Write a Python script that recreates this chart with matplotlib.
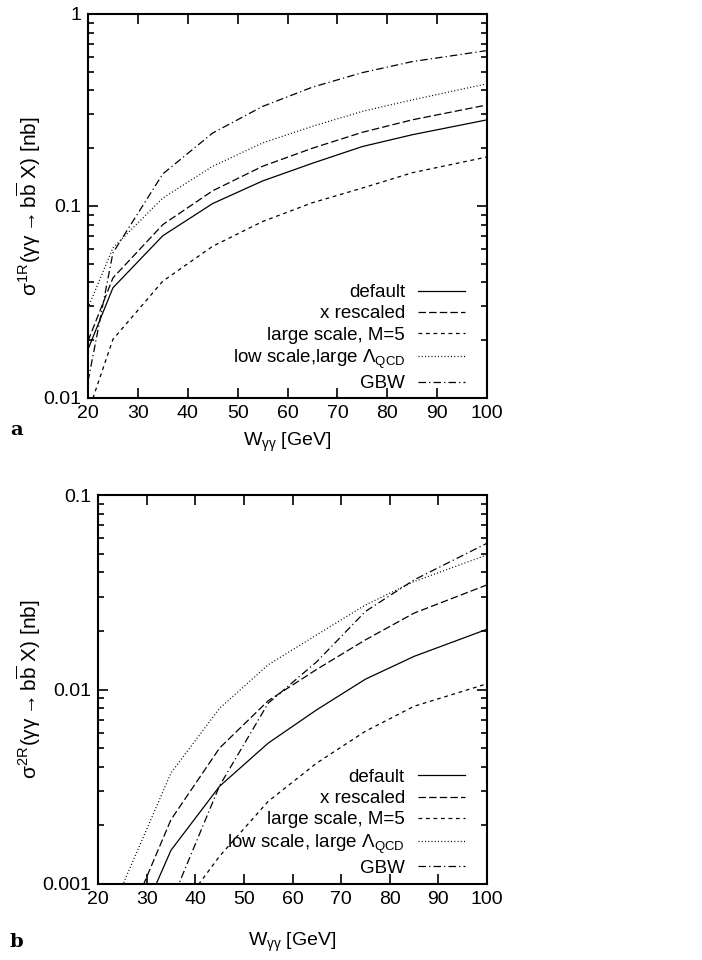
import matplotlib
matplotlib.use("Agg")
import matplotlib.pyplot as plt
from matplotlib.ticker import FixedLocator, FuncFormatter, LogLocator, NullFormatter

plt.rcParams['font.family'] = ['Liberation Sans', 'DejaVu Sans']
plt.rcParams['mathtext.fontset'] = 'custom'
plt.rcParams['mathtext.rm'] = 'Liberation Sans'
plt.rcParams['mathtext.it'] = 'Liberation Sans'
plt.rcParams['mathtext.bf'] = 'Liberation Sans:bold'

# panel a: sigma^1R
w_a = [20, 25, 35, 45, 55, 65, 75, 85, 100]
default_a = [0.0179, 0.0375, 0.070, 0.103, 0.135, 0.167, 0.204, 0.235, 0.281]
xresc_a = [0.0198, 0.0422, 0.080, 0.120, 0.161, 0.200, 0.242, 0.281, 0.336]
large_a = [0.0084, 0.0202, 0.0406, 0.0617, 0.083, 0.104, 0.124, 0.149, 0.180]
low_a = [0.0295, 0.0605, 0.110, 0.161, 0.213, 0.260, 0.311, 0.357, 0.433]
gbw_a = [0.0122, 0.057, 0.147, 0.240, 0.330, 0.416, 0.495, 0.565, 0.645]

# panel b: sigma^2R
w_b = [25, 35, 45, 55, 65, 75, 85, 100]
default_b = [0.0004, 0.00149, 0.00318, 0.0053, 0.00787, 0.0113, 0.0148, 0.0204]
xresc_b = [0.00055, 0.00214, 0.0050, 0.00875, 0.0127, 0.0180, 0.0247, 0.0345]
large_b = [0.0002, 0.00064, 0.00139, 0.00266, 0.00419, 0.0061, 0.0082, 0.0107]
low_b = [0.00098, 0.00372, 0.0080, 0.0134, 0.0191, 0.0272, 0.0359, 0.0492]
gbw_b = [0.0002, 0.0008, 0.0032, 0.0085, 0.0139, 0.0252, 0.0366, 0.0565]

labels_a = ['default', 'x rescaled', 'large scale, M=5',
            r'low scale,large $\Lambda_{QCD}$', 'GBW']
labels_b = ['default', 'x rescaled', 'large scale, M=5',
            r'low scale, large $\Lambda_{QCD}$', 'GBW']
styles = ['-', (0, (6, 2.5)), (0, (3, 3)), (0, (0.8, 1.8)), (0, (6, 2.5, 1, 2.5))]

FS = 14
LFS = 13.5
fig = plt.figure(figsize=(7.02, 9.6), dpi=100)
W, H = 702, 960


def box(l, t, r, b):
    return [l / W, 1 - b / H, (r - l) / W, (b - t) / H]


def setup(ax, ylo, yhi, ylabel, ylab_x, xlab_y):
    ax.set_yscale('log')
    ax.set_xlim(20, 100)
    ax.set_ylim(ylo, yhi)
    ax.xaxis.set_major_locator(FixedLocator(range(20, 101, 10)))
    ax.yaxis.set_major_locator(LogLocator(base=10))
    ax.yaxis.set_minor_locator(LogLocator(base=10, subs=range(2, 10)))
    ax.yaxis.set_major_formatter(FuncFormatter(lambda v, p: '%g' % v))
    ax.yaxis.set_minor_formatter(NullFormatter())
    ax.tick_params(which='both', direction='in', top=True, right=True, labelsize=FS, width=1.2)
    ax.tick_params(which='major', length=7, pad=5)
    ax.tick_params(which='minor', length=4)
    for s in ax.spines.values():
        s.set_linewidth(1.5)
    ax.set_xlabel(r'$W_{\gamma\gamma}$ [GeV]', fontsize=FS, va='center')
    ax.xaxis.set_label_coords(0.5, xlab_y)
    ax.set_ylabel(ylabel, fontsize=15, va='center')
    ax.yaxis.set_label_coords(ylab_x, 0.5)


def legend(ax, anchor, labels):
    ax.legend(labels=labels, loc='lower right', bbox_to_anchor=anchor, frameon=False,
              fontsize=LFS, markerfirst=False, handlelength=2.5, handletextpad=0.7,
              labelspacing=0.22, borderaxespad=0, borderpad=0)


ax1 = fig.add_axes(box(88, 14, 487, 398))
for y, ls in zip([default_a, xresc_a, large_a, low_a, gbw_a], styles):
    ax1.plot(w_a, y, color='black', lw=0.9, ls=ls)
setup(ax1, 0.01, 1, r'$\sigma^{1R}(\gamma\gamma \rightarrow b\overline{b}\ X)$ [nb]',
      -0.148, -0.115)
legend(ax1, (0.945, 0.015), labels_a)

ax2 = fig.add_axes(box(98, 495, 487, 884))
for y, ls in zip([default_b, xresc_b, large_b, low_b, gbw_b], styles):
    ax2.plot(w_b, y, color='black', lw=0.9, ls=ls)
setup(ax2, 0.001, 0.1, r'$\sigma^{2R}(\gamma\gamma \rightarrow b\overline{b}\ X)$ [nb]',
      -0.178, -0.149)
legend(ax2, (0.943, 0.018), labels_b)

fig.text(10 / W, 1 - 430 / H, 'a', fontsize=14, fontweight='bold', family='DejaVu Serif',
         va='center')
fig.text(10 / W, 1 - 942 / H, 'b', fontsize=14, fontweight='bold', family='DejaVu Serif',
         va='center')

fig.savefig('out.png', dpi=100)
